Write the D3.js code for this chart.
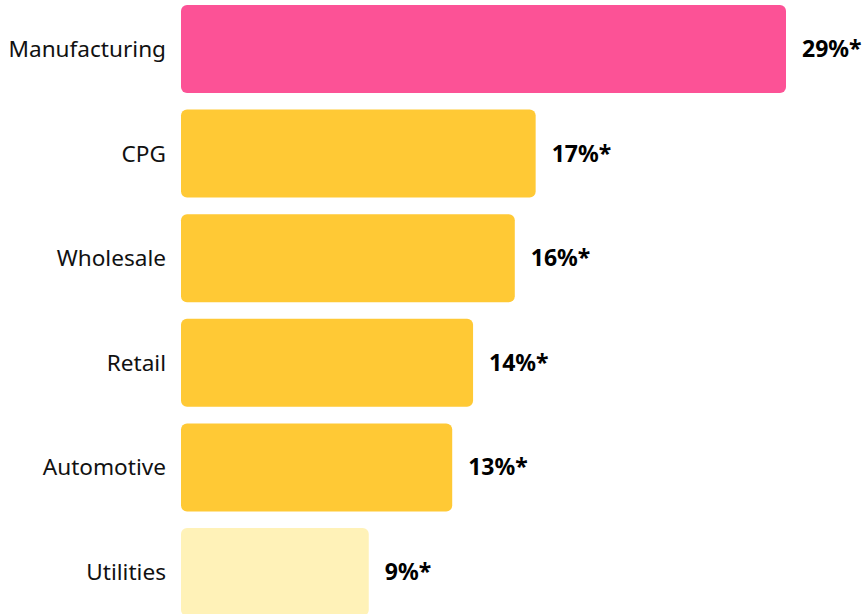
<!DOCTYPE html>
<html>
<head>
<meta charset="utf-8">
<script src="https://cdn.jsdelivr.net/npm/d3@7"></script>
<style>
  html, body { margin: 0; padding: 0; background: #ffffff; overflow: hidden; }
  svg { display: block; }
</style>
</head>
<body>
<svg id="chart" width="867" height="614"></svg>
<script>
// Industry shares
const categories = ["Manufacturing", "CPG", "Wholesale", "Retail", "Automotive", "Utilities"];
const values = [29, 17, 16, 14, 13, 9];
const valueLabels = ["29%*", "17%*", "16%*", "14%*", "13%*", "9%*"];
const barColors = ["#FC5296", "#FFC935", "#FFC935", "#FFC935", "#FFC935", "#FFF2B8"];

const svg = d3.select("#chart");

const x = d3.scaleLinear().domain([0, 29]).range([181, 786]);
const y = d3.scaleBand().domain(categories).range([5, 616]).paddingInner(0.159).paddingOuter(0);

const rows = svg.selectAll("g.row")
  .data(categories.map((c, i) => ({ c, v: values[i], label: valueLabels[i], color: barColors[i] })))
  .join("g")
  .attr("class", "row");

rows.append("rect")
  .attr("x", x(0))
  .attr("y", d => y(d.c))
  .attr("width", d => x(d.v) - x(0))
  .attr("height", y.bandwidth())
  .attr("rx", 6)
  .attr("ry", 6)
  .attr("fill", d => d.color);

// Category names, right-aligned against the bars
rows.append("text")
  .attr("x", x(0) - 15)
  .attr("y", d => y(d.c) + y.bandwidth() / 2)
  .attr("dy", "0.35em")
  .attr("text-anchor", "end")
  .attr("font-family", "'Noto Sans', 'Open Sans', sans-serif")
  .attr("font-size", 22.6)
  .attr("fill", "#111111")
  .text(d => d.c);

// Value labels after each bar
rows.append("text")
  .attr("x", d => x(d.v) + 16)
  .attr("y", d => y(d.c) + y.bandwidth() / 2)
  .attr("dy", "0.35em")
  .attr("text-anchor", "start")
  .attr("font-family", "'Noto Sans', 'Lato', sans-serif")
  .attr("font-weight", 700)
  .attr("font-size", 23)
  .attr("fill", "#000000")
  .text(d => d.label);
</script>
</body>
</html>
